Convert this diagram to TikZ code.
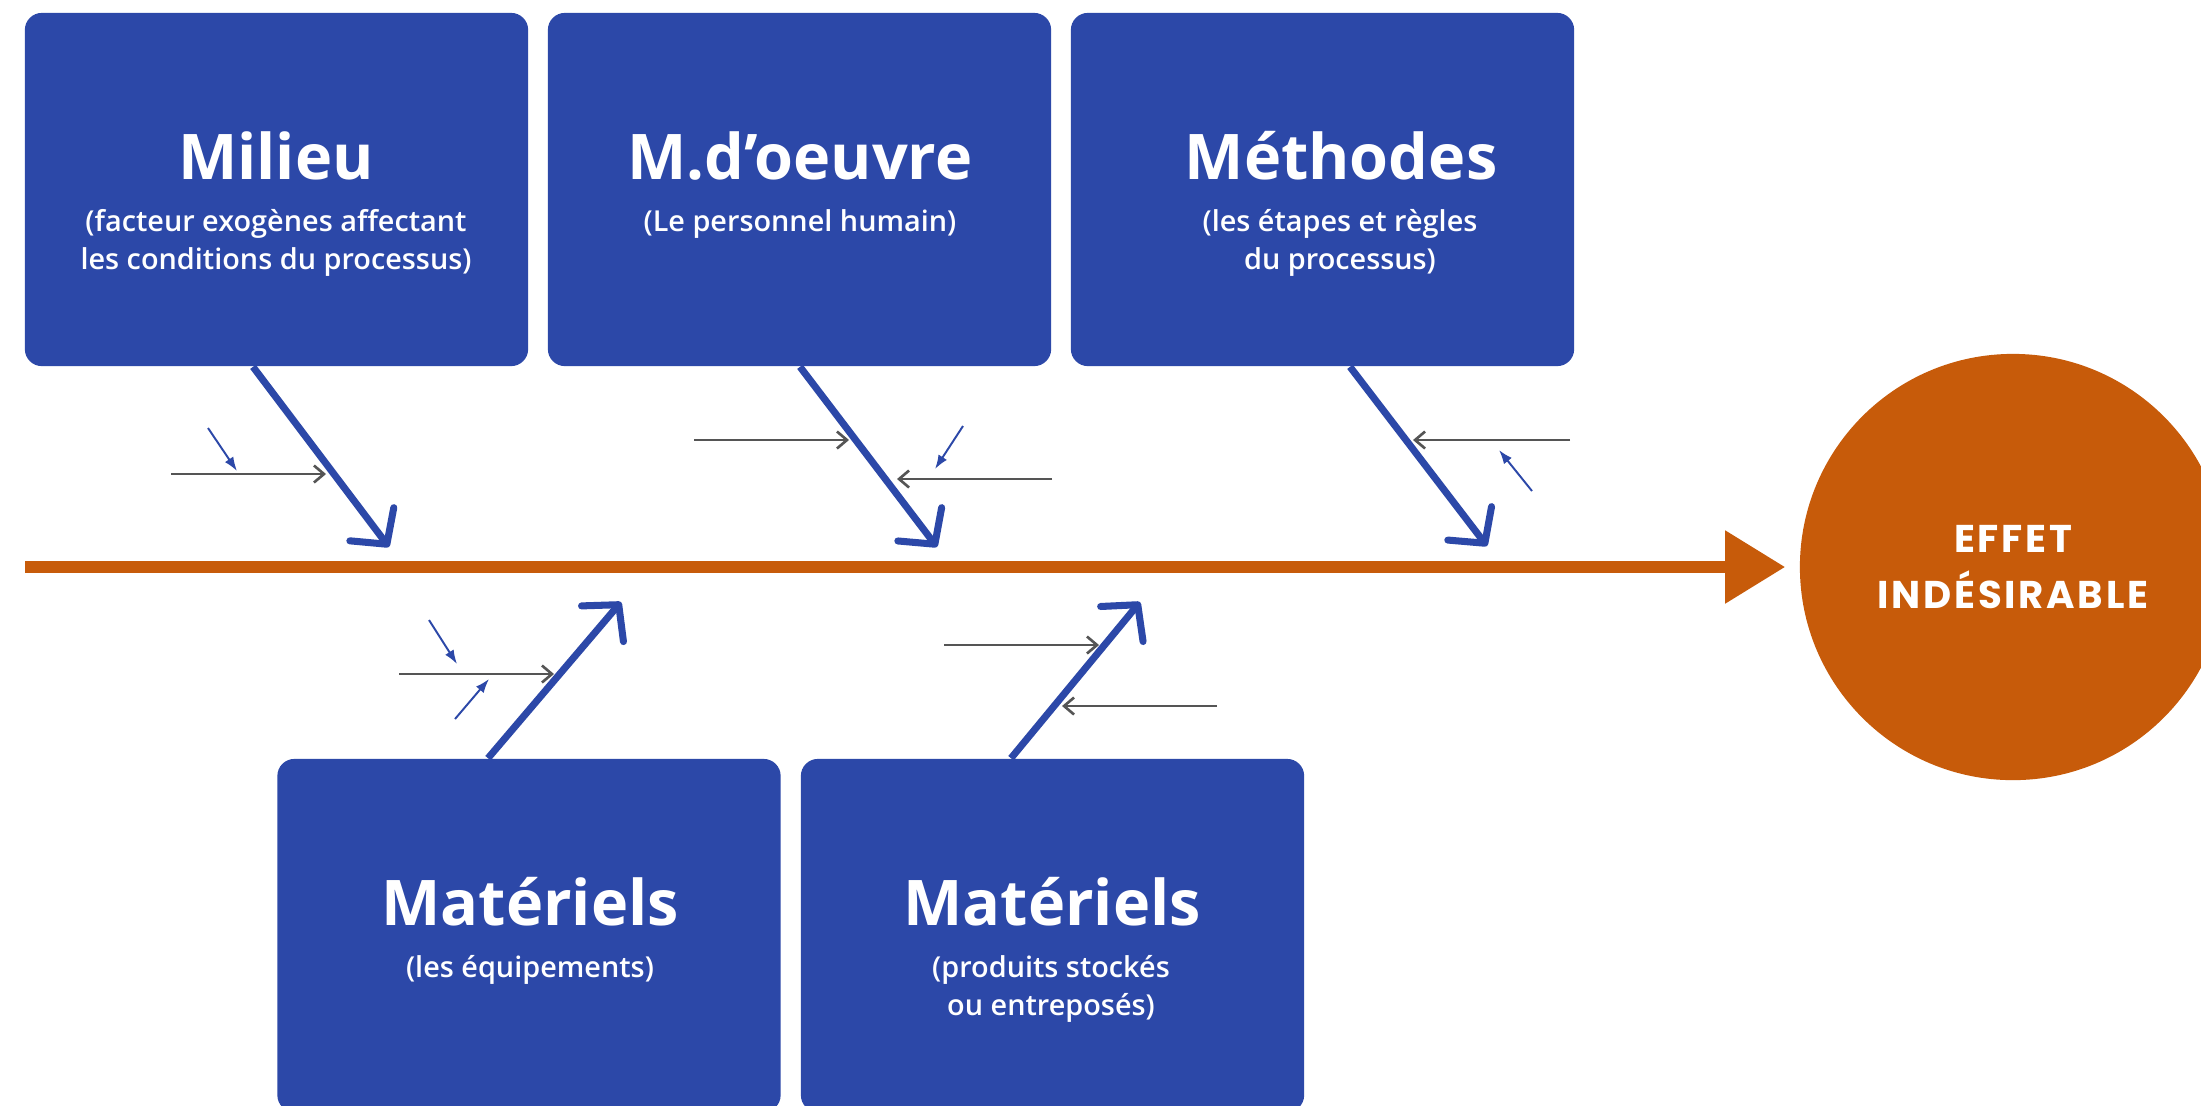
\documentclass[tikz,border=0pt]{standalone}
\usepackage{fontspec}
\setmainfont{Open Sans}
\IfFontExistsTF{Open Sans SemiBold}{\newfontfamily\sousfont{Open Sans SemiBold}}{%
  \IfFontExistsTF{Open Sans Semibold}{\newfontfamily\sousfont{Open Sans Semibold}}{%
    \newfontfamily\sousfont[FakeBold=0.6]{Open Sans}}}
\newfontfamily\effetfont[LetterSpace=7]{Poppins}
\usetikzlibrary{arrows.meta}
\definecolor{bleuboite}{HTML}{2C48A8}
\definecolor{orangeeffet}{HTML}{C75B0A}
\definecolor{grisfleche}{HTML}{555555}
\tikzset{
  boite/.style={fill=bleuboite, rounded corners=0.17cm, minimum width=5.03cm, minimum height=3.53cm, inner sep=0pt},
  titre/.style={text=white, font=\fontsize{17.9}{20}\selectfont\bfseries, anchor=base, inner sep=0pt},
  soustitre/.style={text=white, font=\sousfont\fontsize{8.2}{10.8}\selectfont, align=center, anchor=base, inner sep=0pt},
  effet/.style={circle, fill=orangeeffet, minimum size=4.26cm, inner sep=0pt, text=white, align=center, font=\effetfont\fontsize{11}{15.8}\selectfont\bfseries},
  arete/.style={draw=orangeeffet, line width=3.4pt, -{Triangle[length=0.6cm,width=0.7cm]}, shorten >=0.14cm},
  os/.style={draw=bleuboite, line width=2pt, -{Straight Barb[length=0.25cm,width=0.55cm,round]}},
  cause/.style={draw=grisfleche, line width=0.75pt, -{Straight Barb[length=0.1cm,width=0.17cm]}},
  souscause/.style={draw=bleuboite, line width=0.55pt, -{Latex[length=0.14cm,width=0.1cm]}},
}
\begin{document}
\begin{tikzpicture}[x=0.01cm,y=-0.01cm]
\useasboundingbox (0,0) rectangle (2201,1105);
\clip (0,0) rectangle (2201,1105);
\fill[white] (0,0) rectangle (2201,1105);
% les cinq familles de causes
\node[boite] (milieu) at (276.5,189.5) {};
\node[boite] (oeuvre) at (799.5,189.5) {};
\node[boite] (methodes) at (1322.5,189.5) {};
\node[boite] (equipements) at (529,935.5) {};
\node[boite] (produits) at (1052.5,935.5) {};
\node[titre] (milieuT) at (276,179) {Milieu};
\node[soustitre] (milieuS) at (276,269) {(facteur exogènes affectant\\les conditions du processus)};
\node[titre] (oeuvreT) at (800,179) {M.d’oeuvre};
\node[soustitre] (oeuvreS) at (800,231) {(Le personnel humain)};
\node[titre] (methodesT) at (1341,179) {Méthodes};
\node[soustitre] (methodesS) at (1340,269) {(les étapes et règles\\du processus)};
\node[titre] (equipementsT) at (530,925) {Matériels};
\node[soustitre] (equipementsS) at (530,977) {(les équipements)};
\node[titre] (produitsT) at (1052,925) {Matériels};
\node[soustitre] (produitsS) at (1051,1015) {(produits stockés\\ou entreposés)};
% effet et arete centrale
\node[effet] (effet) at (2013,567) {EFFET\\INDÉSIRABLE};
\coordinate (debut) at (25,567);
\draw[arete] (debut) -- (effet);
% aretes vers l'axe
\coordinate (pMilieu) at (389,547);
\coordinate (pOeuvre) at (937,547);
\coordinate (pMethodes) at (1487,546);
\coordinate (pEquipements) at (621,602);
\coordinate (pProduits) at (1140,602);
\draw[os] (milieu.south) ++(-23.5,0) -- (pMilieu);
\draw[os] (oeuvre.south) ++(0.5,0) -- (pOeuvre);
\draw[os] (methodes.south) ++(27.5,0) -- (pMethodes);
\draw[os] (equipements.north) ++(-41,0) -- (pEquipements);
\draw[os] (produits.north) ++(-41.5,0) -- (pProduits);
% causes secondaires
\coordinate (c1) at (171,474);
\coordinate (c2) at (694,440);
\coordinate (c3) at (1052,479);
\coordinate (c4) at (1570,440);
\coordinate (c5) at (399,674);
\coordinate (c6) at (944,645);
\coordinate (c7) at (1217,706);
\draw[cause] (c1) -- ++(155,0);
\draw[cause] (c2) -- ++(155,0);
\draw[cause] (c3) -- ++(-155,0);
\draw[cause] (c4) -- ++(-157,0);
\draw[cause] (c5) -- ++(155,0);
\draw[cause] (c6) -- ++(155,0);
\draw[cause] (c7) -- ++(-155,0);
% sous-causes
\coordinate (s1) at (208,428);
\coordinate (s2) at (963,426);
\coordinate (s3) at (1532,491);
\coordinate (s4) at (429,620);
\coordinate (s5) at (455,719);
\draw[souscause] (s1) -- ++(29,43);
\draw[souscause] (s2) -- ++(-28,43);
\draw[souscause] (s3) -- ++(-33,-41);
\draw[souscause] (s4) -- ++(28,44);
\draw[souscause] (s5) -- ++(34,-40);
\end{tikzpicture}
\end{document}
